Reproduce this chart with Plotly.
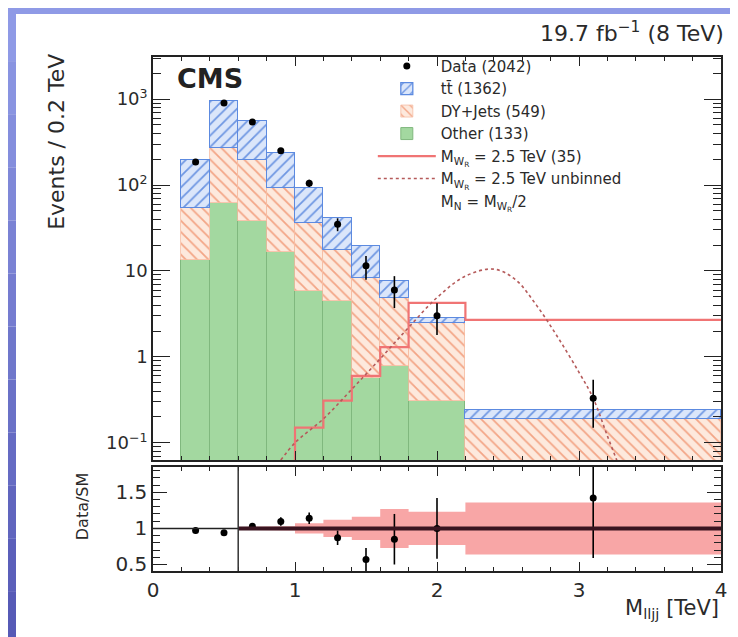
import plotly.graph_objects as go

# ---------------- data ----------------
bin_edges = [0.2, 0.4, 0.6, 0.8, 1.0, 1.2, 1.4, 1.6, 1.8, 2.2, 4.0]
other_vals = [13.4, 62, 38, 16.6, 5.8, 4.5, 0.57, 0.79, 0.31, 0.0]
dy_vals = [40, 208, 157, 76, 30, 13, 7.7, 4.1, 2.2, 0.19]
ttbar_vals = [141, 680, 355, 142, 57, 23.5, 11.2, 2.7, 0.35, 0.05]

data_x = [0.3, 0.5, 0.7, 0.9, 1.1, 1.3, 1.5, 1.7, 2.0, 3.1]
data_y = [185, 900, 540, 250, 105, 35, 11.5, 6.0, 3.0, 0.33]
data_err_up = [14, 30, 23, 16, 10, 6, 3.4, 2.7, 1.2, 0.21]
data_err_dn = [14, 30, 23, 16, 10, 6, 3.6, 2.3, 1.2, 0.18]

sig_edges = [0.8, 1.0, 1.2, 1.4, 1.6, 1.8, 2.2, 4.0]
sig_vals = [0.03, 0.15, 0.31, 0.6, 1.3, 4.25, 2.7]

unb_x = [0.90, 1.00, 1.20, 1.40, 1.60, 1.80, 2.00, 2.20, 2.40, 2.55, 2.70, 2.85, 3.00, 3.10, 3.20, 3.30]
unb_y = [0.063, 0.10, 0.19, 0.42, 0.95, 2.2, 4.9, 8.7, 10.5, 8.0, 4.0, 1.7, 0.66, 0.33, 0.12, 0.045]

ratio_y = [0.97, 0.94, 1.03, 1.095, 1.14, 0.87, 0.57, 0.85, 1.0, 1.42]
ratio_err_up = [0.04, 0.03, 0.04, 0.06, 0.08, 0.10, 0.16, 0.35, 0.42, 0.50]
ratio_err_dn = [0.04, 0.03, 0.04, 0.06, 0.08, 0.10, 0.20, 0.35, 0.42, 0.83]
band_rel = [0.0, 0.0, 0.02, 0.03, 0.07, 0.12, 0.16, 0.27, 0.23, 0.36]

main_ytickvals = [0.1, 1, 10, 100, 1000]
main_yticktext = ["10<sup>\u22121</sup>", "1", "10", "10<sup>2</sup>", "10<sup>3</sup>"]
ratio_tickvals = [0.5, 1.0, 1.5]
ratio_ticktext = ["0.5", "1", "1.5"]
x_tickvals = [0, 1, 2, 3, 4]

names = {
    "data": "Data (2042)",
    "tt": "tt\u0304 (1362)",
    "dy": "DY+Jets (549)",
    "other": "Other (133)",
    "sig": "M<sub>W<sub>R</sub></sub> = 2.5 TeV (35)",
    "unb": "M<sub>W<sub>R</sub></sub> = 2.5 TeV unbinned",
    "mn": "M<sub>N</sub> = M<sub>W<sub>R</sub></sub>/2",
}

# ---------------- derived ----------------
centers = [(a + b) / 2 for a, b in zip(bin_edges[:-1], bin_edges[1:])]
widths = [b - a for a, b in zip(bin_edges[:-1], bin_edges[1:])]

FONT = "DejaVu Sans"
TXT = "#2a2a2a"

fig = go.Figure()

fig.add_trace(go.Bar(
    x=centers, y=other_vals, width=widths, name=names["other"], legendrank=4,
    marker=dict(color="#a3d8a0", line=dict(color="#80b87e", width=1)),
    xaxis="x", yaxis="y", hoverinfo="skip"))
fig.add_trace(go.Bar(
    x=centers, y=dy_vals, width=widths, name=names["dy"], legendrank=3,
    marker=dict(color="#fde9dd", line=dict(color="#f6bda3", width=0.8),
                pattern=dict(shape="\\", fgcolor="#f3a586", bgcolor="#fde9dd",
                             size=8, solidity=0.22, fillmode="replace")),
    xaxis="x", yaxis="y", hoverinfo="skip"))
fig.add_trace(go.Bar(
    x=centers, y=ttbar_vals, width=widths, name=names["tt"], legendrank=2,
    marker=dict(color="#dbe6fa", line=dict(color="#5c8ae0", width=1.3),
                pattern=dict(shape="/", fgcolor="#6e96e2", bgcolor="#dbe6fa",
                             size=8, solidity=0.22, fillmode="replace")),
    xaxis="x", yaxis="y", hoverinfo="skip"))

# signal binned step line
fig.add_trace(go.Scatter(
    x=sig_edges, y=sig_vals + [sig_vals[-1]], mode="lines", line_shape="hv",
    line=dict(color="#f07474", width=2.2), name=names["sig"], legendrank=5,
    xaxis="x", yaxis="y", hoverinfo="skip"))
# unbinned curve
fig.add_trace(go.Scatter(
    x=unb_x, y=unb_y, mode="lines", line=dict(color="#b55a5a", width=1.6, dash="dot", shape="spline"),
    name=names["unb"], legendrank=6, xaxis="x", yaxis="y", hoverinfo="skip"))
# M_N label (no symbol)
fig.add_trace(go.Scatter(
    x=[None], y=[None], mode="lines", line=dict(color="rgba(0,0,0,0)"),
    name=names["mn"], legendrank=7, xaxis="x", yaxis="y"))
# data
fig.add_trace(go.Scatter(
    x=data_x, y=data_y, mode="markers", name=names["data"], legendrank=1,
    marker=dict(color="black", size=7),
    error_y=dict(type="data", symmetric=False, array=data_err_up, arrayminus=data_err_dn,
                 color="black", thickness=1.6, width=0),
    xaxis="x", yaxis="y", hoverinfo="skip"))

# ratio band (step polygon)
bx, bu, bl = [], [], []
for i, r in enumerate(band_rel):
    if r <= 0:
        continue
    bx += [bin_edges[i], bin_edges[i + 1]]
    bu += [1 + r, 1 + r]
    bl += [1 - r, 1 - r]
fig.add_trace(go.Scatter(
    x=bx + bx[::-1], y=bu + bl[::-1], fill="toself", mode="lines",
    line=dict(width=0), fillcolor="rgba(247,150,150,0.85)", showlegend=False,
    xaxis="x2", yaxis="y2", hoverinfo="skip"))
fig.add_trace(go.Scatter(
    x=data_x, y=ratio_y, mode="markers", showlegend=False,
    marker=dict(color="black", size=7),
    error_y=dict(type="data", symmetric=False, array=ratio_err_up, arrayminus=ratio_err_dn,
                 color="black", thickness=1.6, width=0),
    xaxis="x2", yaxis="y2", hoverinfo="skip"))

# ---------------- layout ----------------
axis_common = dict(showline=True, linecolor="#222", linewidth=1.6, mirror="allticks",
                   ticks="inside", tickcolor="#222", tickwidth=1.2, showgrid=False,
                   zeroline=False, tickfont=dict(family=FONT, size=20, color=TXT))

minor_log = []
for dec in [0.01, 0.1, 1, 10, 100, 1000]:
    for k in range(2, 10):
        minor_log.append(k * dec)

fig.update_layout(
    width=738, height=637,
    margin=dict(l=145, r=25, t=49, b=74),
    paper_bgcolor="white", plot_bgcolor="white",
    barmode="stack", bargap=0,
    font=dict(family=FONT, color=TXT),
    xaxis=dict(range=[0, 4], anchor="y", domain=[0, 1], showticklabels=False,
               tickvals=x_tickvals, ticklen=9,
               minor=dict(ticks="inside", ticklen=4, dtick=0.2, tickcolor="#222", tickwidth=1),
               **axis_common),
    yaxis=dict(type="log", range=[-1.2, 3.49], domain=[0.216, 1], anchor="x",
               tickvals=main_ytickvals, ticktext=main_yticktext, ticklen=17,
               minor=dict(ticks="inside", ticklen=8, tickmode="array", tickvals=minor_log,
                          tickcolor="#222", tickwidth=1),
               **{**axis_common, "tickfont": dict(family=FONT, size=18, color=TXT)}),
    xaxis2=dict(range=[0, 4], anchor="y2", domain=[0, 1], tickvals=x_tickvals, ticklen=9,
                minor=dict(ticks="inside", ticklen=4, dtick=0.2, tickcolor="#222", tickwidth=1),
                **axis_common),
    yaxis2=dict(range=[0.41, 1.85], domain=[0, 0.2023], anchor="x2",
                tickvals=ratio_tickvals, ticktext=ratio_ticktext, ticklen=14,
                minor=dict(ticks="inside", ticklen=7, dtick=0.1, tickcolor="#222", tickwidth=1),
                **axis_common),
    legend=dict(x=0.387, y=1.014, xanchor="left", yanchor="top", bgcolor="rgba(0,0,0,0)",
                font=dict(family=FONT, size=15, color=TXT), traceorder="normal",
                itemwidth=58, tracegroupgap=0),
)

# background slide strips (gradient approximated)
shapes = []
x_left = -145 / 568
x_right = (738 - 145) / 568
y_bot = (563 - 637) / 514
y_top = 563 / 514
n = 12
c0 = (143, 154, 230)
c1 = (86, 90, 182)
for i in range(n):
    t = i / (n - 1)
    col = tuple(int(c0[j] + (c1[j] - c0[j]) * t) for j in range(3))
    ya = y_top - (y_top - y_bot) * i / n
    yb = y_top - (y_top - y_bot) * (i + 1) / n
    shapes.append(dict(type="rect", xref="paper", yref="paper", x0=x_left, x1=(8 - 145) / 568,
                       y0=yb, y1=ya, fillcolor="rgb(%d,%d,%d)" % col, line=dict(width=0), layer="below"))
shapes.append(dict(type="rect", xref="paper", yref="paper", x0=x_left, x1=x_right,
                   y0=(563 - 6) / 514, y1=y_top, fillcolor="rgb(143,154,230)", line=dict(width=0),
                   layer="below"))
# ratio reference lines
shapes.append(dict(type="line", xref="x2", yref="y2", x0=0, x1=4, y0=1, y1=1,
                   line=dict(color="#222", width=1.5)))
shapes.append(dict(type="line", xref="x2", yref="y2", x0=0.6, x1=4, y0=1, y1=1,
                   line=dict(color="#3a1420", width=4)))
shapes.append(dict(type="line", xref="x2", yref="y2 domain", x0=0.6, x1=0.6, y0=0, y1=1,
                   line=dict(color="#333", width=1.5)))
fig.update_layout(shapes=shapes)

annotations = [
    dict(text="<b>CMS</b>", xref="paper", yref="paper", x=0.038, y=0.958, xanchor="left",
         yanchor="middle", showarrow=False, font=dict(family=FONT, size=27, color="#222")),
    dict(text="19.7 fb<sup>\u22121</sup> (8 TeV)", xref="paper", yref="paper", x=1.009, y=1.048,
         xanchor="right", yanchor="middle", showarrow=False, font=dict(family=FONT, size=22, color=TXT)),
    dict(text="Events / 0.2 TeV", xref="paper", yref="paper", x=-0.169, y=1.01, xanchor="center",
         yanchor="top", textangle=-90, showarrow=False, font=dict(family=FONT, size=22, color=TXT)),
    dict(text="Data/SM", xref="paper", yref="paper", x=-0.125, y=0.126, xanchor="center",
         yanchor="middle", textangle=-90, showarrow=False, font=dict(family=FONT, size=16, color=TXT)),
    dict(text="M<sub>lljj</sub> [TeV]", xref="paper", yref="paper", x=1.0, y=-0.074, xanchor="right",
         yanchor="middle", showarrow=False, font=dict(family=FONT, size=21, color=TXT)),
]
fig.update_layout(annotations=annotations)

fig.write_html("out.html")
